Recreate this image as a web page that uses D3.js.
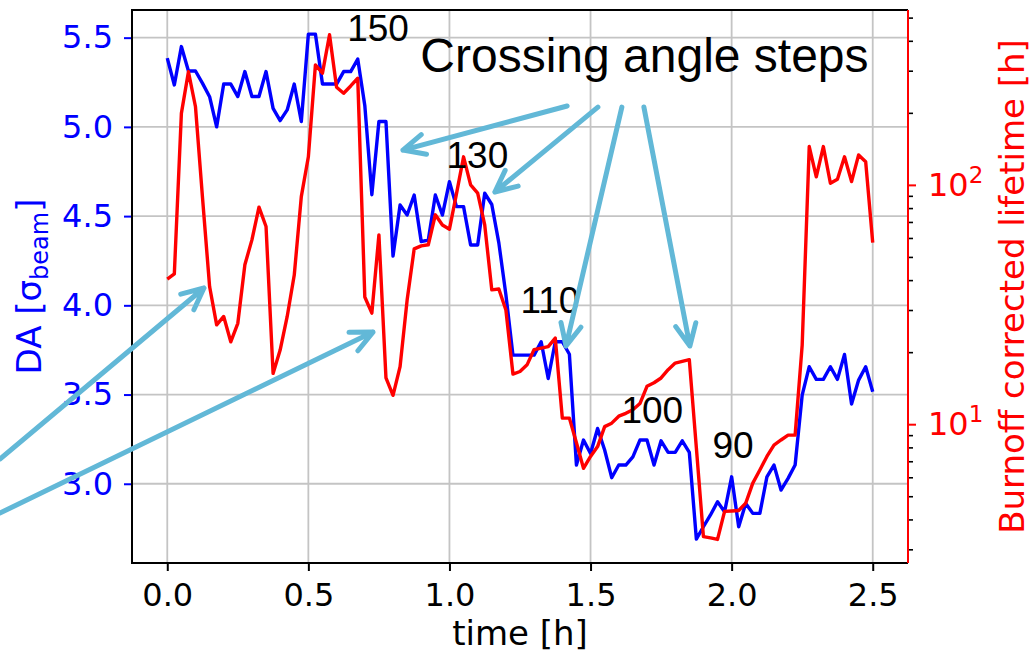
<!DOCTYPE html>
<html>
<head>
<meta charset="utf-8">
<script src="https://cdn.jsdelivr.net/npm/d3@7"></script>
<style>
body { margin: 0; background: #fff; }
svg { display: block; font-family: "DejaVu Sans", sans-serif; }
</style>
</head>
<body>
<svg width="1035" height="657"></svg>
<script>
// time [h], sampled every 1.5 min
var time = [0, 0.025, 0.05, 0.075, 0.1, 0.125, 0.15, 0.175, 0.2, 0.225,
    0.25, 0.275, 0.3, 0.325, 0.35, 0.375, 0.4, 0.425, 0.45, 0.475,
    0.5, 0.525, 0.55, 0.575, 0.6, 0.625, 0.65, 0.675, 0.7, 0.725,
    0.75, 0.775, 0.8, 0.825, 0.85, 0.875, 0.9, 0.925, 0.95, 0.975,
    1.0, 1.025, 1.05, 1.075, 1.1, 1.125, 1.15, 1.175, 1.2, 1.225,
    1.25, 1.275, 1.3, 1.325, 1.35, 1.375, 1.4, 1.425, 1.45, 1.475,
    1.5, 1.525, 1.55, 1.575, 1.6, 1.625, 1.65, 1.675, 1.7, 1.725,
    1.75, 1.775, 1.8, 1.825, 1.85, 1.875, 1.9, 1.925, 1.95, 1.975,
    2.0, 2.025, 2.05, 2.075, 2.1, 2.125, 2.15, 2.175, 2.2, 2.225,
    2.25, 2.275, 2.3, 2.325, 2.35, 2.375, 2.4, 2.425, 2.45, 2.475,
    2.5];

// dynamic aperture [sigma_beam]
var da = [5.385, 5.235, 5.45, 5.313, 5.313, 5.244, 5.169, 5.0, 5.24, 5.24,
    5.17, 5.31, 5.17, 5.17, 5.31, 5.104, 5.035, 5.095, 5.24, 5.03,
    5.52, 5.52, 5.24, 5.24, 5.24, 5.31, 5.31, 5.38, 5.12, 4.62,
    5.03, 5.03, 4.276, 4.562, 4.506, 4.618, 4.357, 4.366, 4.618, 4.506,
    4.693, 4.553, 4.553, 4.338, 4.338, 4.628, 4.565, 4.35, 4.06, 3.721,
    3.721, 3.721, 3.721, 3.796, 3.59, 3.796, 3.796, 3.726, 3.105, 3.245,
    3.17, 3.31, 3.189, 3.034, 3.105, 3.105, 3.151, 3.245, 3.245, 3.105,
    3.241, 3.176, 3.176, 3.241, 3.176, 2.69, 2.759, 2.825, 2.899, 2.843,
    3.039, 2.759, 2.89, 2.834, 2.834, 3.039, 3.105, 2.965, 3.03, 3.105,
    3.497, 3.656, 3.585, 3.585, 3.656, 3.585, 3.725, 3.447, 3.581, 3.656,
    3.516];

// burnoff corrected lifetime [h]
var lifetime = [40.4, 42.5, 199, 297, 212, 88, 37.6, 26, 28.2, 22.1,
    26.4, 46.4, 58.9, 80.7, 67, 16.3, 20.4, 28.2, 42, 89.3,
    131, 317, 293, 424, 256, 241.5, 259, 279, 34, 29.1,
    61.8, 15.6, 13.2, 17.4, 33, 54, 55.6, 56.2, 75, 68,
    65.3, 92, 131, 100, 92.3, 68, 36.4, 36.7, 30, 16.2,
    16.6, 17.7, 20.5, 20.8, 21.1, 22.9, 10.6, 10.6, 8.36, 6.54,
    7.33, 8.06, 9.77, 10.1, 10.8, 11.1, 11.5, 12.2, 14.4, 14.9,
    15.6, 16.9, 18.0, 18.3, 18.6, 7.96, 3.39, 3.35, 3.3, 4.32,
    4.34, 4.36, 4.68, 5.67, 6.44, 7.33, 8.18, 8.59, 9.0, 9.0,
    21.4, 144.6, 108, 144.6, 101.6, 105.6, 131, 103.2, 133.4, 125,
    57.4];

var xTicks = [0, 0.5, 1.0, 1.5, 2.0, 2.5];
var daTicks = [3.0, 3.5, 4.0, 4.5, 5.0, 5.5];
var lifeMajor = [10, 100];
var lifeMinor = [3, 4, 5, 6, 7, 8, 9, 20, 30, 40, 50, 60, 70, 80, 90, 200, 300, 400, 500];

// crossing angle labels [urad] and where they sit (time, DA)
var stepLabels = ["150", "130", "110", "100", "90"];
var stepT = [0.747, 1.099, 1.356, 1.719, 2.005];
var stepDA = [5.479, 4.772, 3.957, 3.341, 3.144];

// annotation arrows, tail -> head, in (time, DA)
var arrowFromT = [1.417, 1.526, 1.611, 1.689, -0.593, -0.593];
var arrowFromDA = [5.117, 5.111, 5.111, 5.111, 3.139, 2.836];
var arrowToT = [0.835, 1.161, 1.413, 1.852, 0.130, 0.729];
var arrowToDA = [4.870, 4.635, 3.772, 3.772, 4.097, 3.850];

var svg = d3.select("svg"),
    pLeft = 132, pRight = 908, pTop = 10, pBottom = 563;

var x = d3.scaleLinear().domain([-0.125, 2.625]).range([pLeft, pRight]);
var yL = d3.scaleLinear().domain([2.556, 5.655]).range([pBottom, pTop]);
var yR = d3.scaleLog().domain([2.63, 538]).range([pBottom, pTop]);

var gridColor = "#c4c4c4";

// grid
svg.append("g").selectAll("line")
    .data(xTicks)
    .enter().append("line")
    .attr("x1", function(d) { return x(d); })
    .attr("x2", function(d) { return x(d); })
    .attr("y1", pTop).attr("y2", pBottom)
    .attr("stroke", gridColor).attr("stroke-width", 1.8);

svg.append("g").selectAll("line")
    .data(daTicks)
    .enter().append("line")
    .attr("y1", function(d) { return yL(d); })
    .attr("y2", function(d) { return yL(d); })
    .attr("x1", pLeft).attr("x2", pRight)
    .attr("stroke", gridColor).attr("stroke-width", 1.8);

// lines
var blueLine = d3.line()
    .x(function(d, i) { return x(time[i]); })
    .y(function(d) { return yL(d); });

var redLine = d3.line()
    .x(function(d, i) { return x(time[i]); })
    .y(function(d) { return yR(d); });

svg.append("path")
    .datum(da)
    .attr("d", blueLine)
    .attr("fill", "none")
    .attr("stroke", "#0000ff")
    .attr("stroke-width", 3.4)
    .attr("stroke-linejoin", "round");

svg.append("path")
    .datum(lifetime)
    .attr("d", redLine)
    .attr("fill", "none")
    .attr("stroke", "#ff0000")
    .attr("stroke-width", 3.4)
    .attr("stroke-linejoin", "round");

// axes
var fmt = d3.format(".1f");

var xAxis = svg.append("g")
    .attr("transform", "translate(0," + pBottom + ")")
    .call(d3.axisBottom(x).tickValues(xTicks).tickFormat(fmt).tickSize(8).tickPadding(12));
xAxis.selectAll("line").attr("stroke", "#000").attr("stroke-width", 2);
xAxis.selectAll("text").attr("font-size", 32).attr("font-family", "DejaVu Sans").attr("fill", "#000");

var yAxisL = svg.append("g")
    .attr("transform", "translate(" + pLeft + ",0)")
    .call(d3.axisLeft(yL).tickValues(daTicks).tickFormat(fmt).tickSize(8).tickPadding(11));
yAxisL.selectAll("line").attr("stroke", "#0000ff").attr("stroke-width", 2);
yAxisL.selectAll("text").attr("font-size", 32).attr("font-family", "DejaVu Sans").attr("fill", "#0000ff");

var yAxisMinor = svg.append("g")
    .attr("transform", "translate(" + pRight + ",0)")
    .call(d3.axisRight(yR).tickValues(lifeMinor).tickFormat("").tickSize(5));
yAxisMinor.selectAll("line").attr("stroke", "#000").attr("stroke-width", 1.6);

var yAxisR = svg.append("g")
    .attr("transform", "translate(" + pRight + ",0)")
    .call(d3.axisRight(yR).tickValues(lifeMajor).tickFormat("").tickSize(8).tickPadding(12));
yAxisR.selectAll("line").attr("stroke", "#ff0000").attr("stroke-width", 2);
var rLab = yAxisR.selectAll(".tick").append("text")
    .attr("x", 20)
    .attr("dy", "0.32em")
    .attr("fill", "#ff0000")
    .attr("font-size", 32)
    .attr("font-family", "DejaVu Sans")
    .attr("text-anchor", "start");
rLab.append("tspan").text("10");
rLab.append("tspan")
    .attr("dy", -13)
    .attr("font-size", 23)
    .text(function(d) { return Math.round(Math.log10(d)); });

svg.selectAll(".domain").remove();

// spines
svg.append("path")
    .attr("d", "M" + pRight + "," + pTop + "H" + pLeft + "V" + pBottom + "H" + pRight)
    .attr("fill", "none").attr("stroke", "#000").attr("stroke-width", 2);
svg.append("line")
    .attr("x1", pRight).attr("x2", pRight).attr("y1", pTop).attr("y2", pBottom)
    .attr("stroke", "#ff0000").attr("stroke-width", 2);

// axis titles
svg.append("text")
    .attr("x", (pLeft + pRight) / 2)
    .attr("y", 645)
    .attr("text-anchor", "middle")
    .attr("font-size", 34)
    .text("time [h]");

var lt = svg.append("text")
    .attr("transform", "translate(41," + ((pTop + pBottom) / 2) + ") rotate(-90)")
    .attr("text-anchor", "middle")
    .attr("font-size", 34)
    .attr("fill", "#0000ff");
lt.append("tspan").text("DA [σ");
lt.append("tspan").attr("font-size", 24).attr("dy", 7).text("beam");
lt.append("tspan").attr("dy", -7).text("]");

svg.append("text")
    .attr("transform", "translate(1024," + ((pTop + pBottom) / 2) + ") rotate(-90)")
    .attr("text-anchor", "middle")
    .attr("font-size", 34)
    .attr("fill", "#ff0000")
    .text("Burnoff corrected lifetime [h]");

// annotations
svg.append("g").selectAll("text")
    .data(stepLabels)
    .enter().append("text")
    .attr("x", function(d, i) { return x(stepT[i]); })
    .attr("y", function(d, i) { return yL(stepDA[i]); })
    .attr("text-anchor", "middle")
    .attr("font-family", "Liberation Sans, Arial, sans-serif")
    .attr("font-size", 37)
    .text(function(d) { return d; });

svg.append("text")
    .attr("x", x(1.691))
    .attr("y", yL(5.307))
    .attr("text-anchor", "middle")
    .attr("font-family", "Liberation Sans, Arial, sans-serif")
    .attr("font-size", 48)
    .text("Crossing angle steps");

// arrows
function arrowPath(i) {
    var x0 = x(arrowFromT[i]), y0 = yL(arrowFromDA[i]),
        x1 = x(arrowToT[i]), y1 = yL(arrowToDA[i]),
        a = Math.atan2(y0 - y1, x0 - x1),
        len = 24, sp = 0.44;
    return "M" + x0 + "," + y0 + "L" + x1 + "," + y1 +
        "M" + (x1 + len * Math.cos(a + sp)) + "," + (y1 + len * Math.sin(a + sp)) +
        "L" + x1 + "," + y1 +
        "L" + (x1 + len * Math.cos(a - sp)) + "," + (y1 + len * Math.sin(a - sp));
}

svg.append("g").selectAll("path")
    .data(arrowFromT)
    .enter().append("path")
    .attr("d", function(d, i) { return arrowPath(i); })
    .attr("fill", "none")
    .attr("stroke", "#62b8d7")
    .attr("stroke-width", 5)
    .attr("stroke-linecap", "round")
    .attr("stroke-linejoin", "round");
</script>
</body>
</html>
